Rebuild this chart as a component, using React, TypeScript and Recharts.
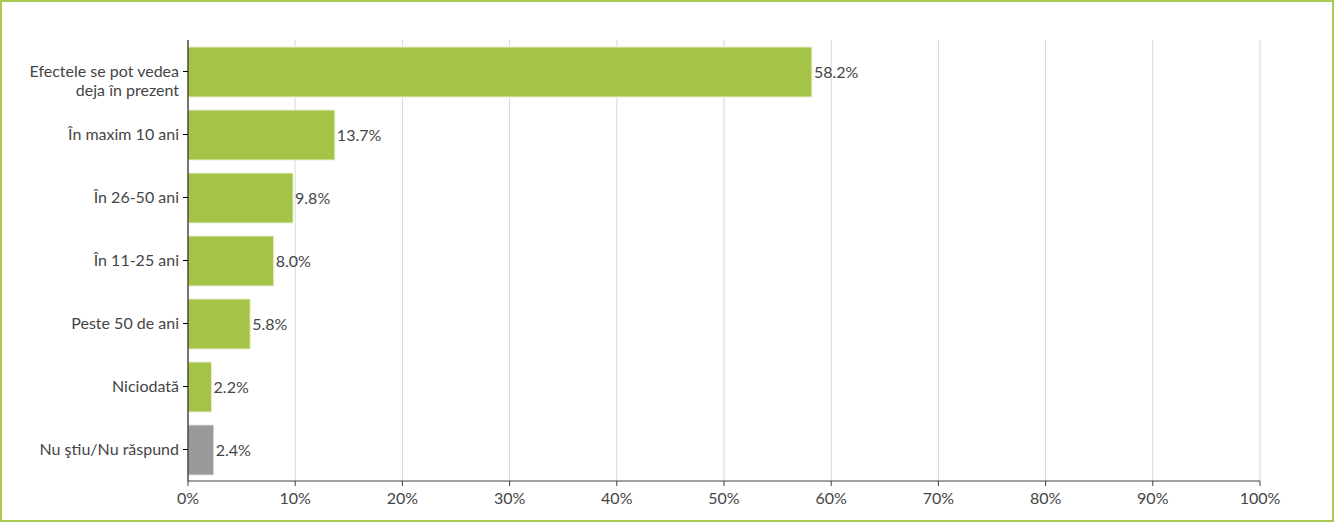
import { BarChart, Bar, XAxis, YAxis, CartesianGrid, Cell, LabelList } from 'recharts';

const categories = [
  'Efectele se pot vedea\ndeja în prezent',
  'În maxim 10 ani',
  'În 26-50 ani',
  'În 11-25 ani',
  'Peste 50 de ani',
  'Niciodată',
  'Nu ştiu/Nu răspund',
];
const values = [58.2, 13.7, 9.8, 8.0, 5.8, 2.2, 2.4];
const barColors = ['#a5c346', '#a5c346', '#a5c346', '#a5c346', '#a5c346', '#a5c346', '#999999'];
const xTicks = [0, 10, 20, 30, 40, 50, 60, 70, 80, 90, 100];

const data = categories.map((name, i) => ({ name, value: values[i], color: barColors[i] }));

const FONT = 'Lato, "Open Sans", sans-serif';
const TEXT = '#454545';

// first line sits on the tick, extra lines go below (as in the original)
function CategoryTick(props: any) {
  const { x, y, payload } = props;
  const lines = String(payload.value).split('\n');
  const lh = 19;
  return (
    <text x={x} y={y} textAnchor="end" fill={TEXT} fontFamily={FONT} fontSize={16}>
      {lines.map((line, i) => (
        <tspan key={i} x={x} dy={i === 0 ? 5 : lh}>
          {line}
        </tspan>
      ))}
    </text>
  );
}

export default function App() {
  return (
    <div
      style={{
        position: 'absolute',
        left: 0,
        top: 0,
        width: 1334,
        height: 522,
        boxSizing: 'border-box',
        border: '2px solid #a9c957',
        background: '#fff',
      }}
    >
      <BarChart
        width={1330}
        height={518}
        data={data}
        layout="vertical"
        margin={{ top: 38, right: 72, bottom: 9, left: 0 }}
        barCategoryGap={6}
      >
        <CartesianGrid horizontal={false} stroke="#d9d9d9" />
        <XAxis
          type="number"
          domain={[0, 100]}
          ticks={xTicks}
          tickFormatter={(v: number) => `${v}%`}
          tick={{ fill: TEXT, fontFamily: FONT, fontSize: 16 }}
          stroke="#404040"
          tickSize={5}
          tickMargin={7}
          height={30}
          interval={0}
        />
        <YAxis
          type="category"
          dataKey="name"
          width={186}
          stroke="#000"
          tickSize={5}
          tickMargin={4}
          tick={<CategoryTick />}
          interval={0}
        />
        <Bar dataKey="value" isAnimationActive={false} barSize={50} strokeWidth={1}>
          {data.map((d, i) => (
            <Cell key={i} fill={d.color} stroke={i === 6 ? '#e0e0e0' : '#e8f0d0'} />
          ))}
          <LabelList
            dataKey="value"
            position="right"
            offset={2}
            formatter={(v: any) => `${Number(v).toFixed(1)}%`}
            fill={TEXT}
            fontFamily={FONT}
            fontSize={16}
          />
        </Bar>
      </BarChart>
    </div>
  );
}
